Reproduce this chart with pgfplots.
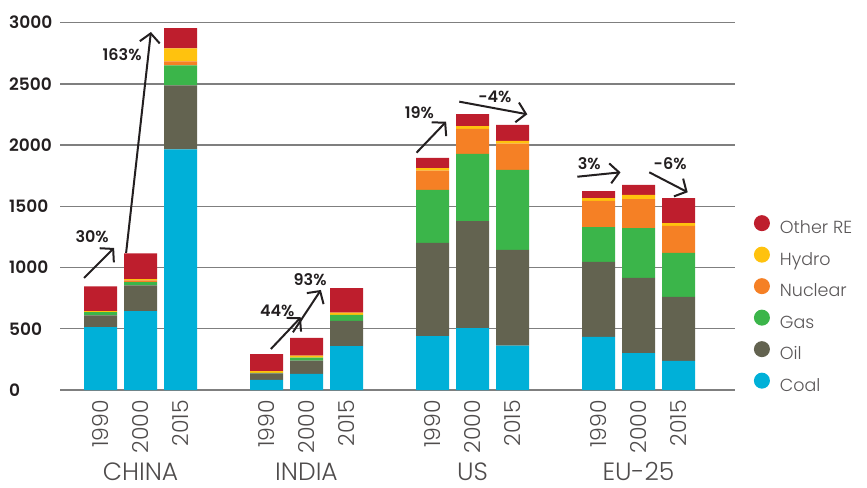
\documentclass[border=0pt]{standalone}
\usepackage{fontspec}
\setmainfont{Poppins}[UprightFont={* Light}, BoldFont={* SemiBold}]
\usepackage{pgfplots}
\pgfplotsset{compat=1.18}
\usetikzlibrary{arrows.meta}

\definecolor{cOther}{HTML}{BE1E2D}
\definecolor{cHydro}{HTML}{FFC20E}
\definecolor{cNuclear}{HTML}{F58025}
\definecolor{cGas}{HTML}{3BB54A}
\definecolor{cOil}{HTML}{636350}
\definecolor{cCoal}{HTML}{00B0D8}
\definecolor{txt}{HTML}{231F20}
\definecolor{gridc}{HTML}{7F7F7F}

\tikzset{garrow/.style={draw=txt, line width=2bp,
    -{Straight Barb[length=9bp,width=20bp,line width=2bp]}},
    pct/.style={font=\bfseries\fontsize{16bp}{16bp}\selectfont, text=txt},
    grp/.style={font=\fontsize{25bp}{25bp}\selectfont, text=txt!80, anchor=base,
        inner sep=0pt, text depth=0pt, yshift=-90bp}}

\begin{document}
\begin{tikzpicture}
\begin{axis}[
    scale only axis,
    width=675bp, height=367.3bp,
    xmin=-1.0125, xmax=15.8625,
    ymin=0, ymax=3000,
    clip=false,
    ybar stacked,
    bar width=0.825,
    axis line style={draw=none},
    major tick length=0pt,
    ytick={0,500,1000,1500,2000,2500,3000},
    ymajorgrids,
    grid style={gridc, line width=1.3bp},
    /pgf/number format/assume math mode=true,
    /pgf/number format/1000 sep={},
    yticklabel style={font=\bfseries\fontsize{17bp}{17bp}\selectfont, text=txt,
        anchor=west, inner sep=0pt, xshift=-51bp},
    xtick={0,1,2,4.15,5.15,6.15,8.3,9.3,10.3,12.45,13.45,14.45},
    xticklabels={1990,2000,2015,1990,2000,2015,1990,2000,2015,1990,2000,2015},
    xticklabel style={rotate=90, anchor=east, inner xsep=10bp, inner ysep=0pt,
        font=\fontsize{22bp}{22bp}\selectfont, text=txt!80},
    reverse legend,
    legend cell align=left,
    legend image code/.code={
        \fill[#1, draw=none] (0bp,6bp) circle (8bp);
        \path (18bp,0bp);
    },
    legend style={draw=none, fill=none, at={(1.0233,0.482)}, anchor=north west,
        font=\fontsize{17.5bp}{17.5bp}\selectfont, text=txt!75,
        row sep=9bp, nodes={inner sep=0pt, text height=13bp, text depth=4bp}},
]
% Coal
\addplot[fill=cCoal, draw=none] coordinates {
    (0,513) (1,644) (2,1966)
    (4.15,82) (5.15,131) (6.15,359)
    (8.3,441) (9.3,506) (10.3,362)
    (12.45,433) (13.45,302) (14.45,237)};
% Oil
\addplot[fill=cOil, draw=none] coordinates {
    (0,96) (1,210) (2,523)
    (4.15,54) (5.15,108) (6.15,205)
    (8.3,760) (9.3,874) (10.3,782)
    (12.45,613) (13.45,613) (14.45,523)};
% Gas
\addplot[fill=cGas, draw=none] coordinates {
    (0,27) (1,27) (2,163)
    (4.15,3) (5.15,25) (6.15,49)
    (8.3,433) (9.3,548) (10.3,653)
    (12.45,285) (13.45,408) (14.45,359)};
% Nuclear
\addplot[fill=cNuclear, draw=none] coordinates {
    (0,0) (1,14) (2,33)
    (4.15,0) (5.15,0) (6.15,0)
    (8.3,157) (9.3,204) (10.3,215)
    (12.45,213) (13.45,237) (14.45,221)};
% Hydro
\addplot[fill=cHydro, draw=none] coordinates {
    (0,8) (1,11) (2,106)
    (4.15,16) (5.15,16) (6.15,19)
    (8.3,22) (9.3,24) (10.3,22)
    (12.45,24) (13.45,33) (14.45,24)};
% Other RE
\addplot[fill=cOther, draw=none] coordinates {
    (0,202) (1,210) (2,164)
    (4.15,139) (5.15,145) (6.15,201)
    (8.3,82) (9.3,98) (10.3,131)
    (12.45,57) (13.45,82) (14.45,204)};
\legend{Coal,Oil,Gas,Nuclear,Hydro,Other RE}

% growth arrows
\draw[garrow] (axis cs:-0.41,915) -- (axis cs:0.34,1160);
\node[pct] at (axis cs:-0.21,1250) {30\%};
\draw[garrow] (axis cs:0.64,1119) -- (axis cs:1.26,2924);
\node[pct] at (axis cs:0.54,2736) {163\%};
\draw[garrow] (axis cs:4.26,335) -- (axis cs:5.01,594);
\node[pct] at (axis cs:4.42,648) {44\%};
\draw[garrow] (axis cs:4.81,471) -- (axis cs:5.51,817);
\node[pct] at (axis cs:5.24,898) {93\%};
\draw[garrow] (axis cs:7.90,1938) -- (axis cs:8.64,2191);
\node[pct] at (axis cs:7.97,2268) {19\%};
\draw[garrow] (axis cs:8.97,2355) -- (axis cs:10.67,2252);
\node[pct] at (axis cs:9.86,2396) {-4\%};
\draw[garrow] (axis cs:11.92,1742) -- (axis cs:13.0,1778);
\node[pct] at (axis cs:12.22,1852) {3\%};
\draw[garrow] (axis cs:13.72,1778) -- (axis cs:14.68,1615);
\node[pct] at (axis cs:14.24,1846) {-6\%};

% group names
\node[grp] at (axis cs:1,0) {CHINA};
\node[grp] at (axis cs:5.15,0) {INDIA};
\node[grp] at (axis cs:9.3,0) {US};
\node[grp] at (axis cs:13.45,0) {EU-25};
\end{axis}
\pgfresetboundingbox
\path[use as bounding box] ([shift={(-60bp,-98bp)}]current axis.south west)
    rectangle ([shift={(807bp,390bp)}]current axis.south west);
\end{tikzpicture}
\end{document}
